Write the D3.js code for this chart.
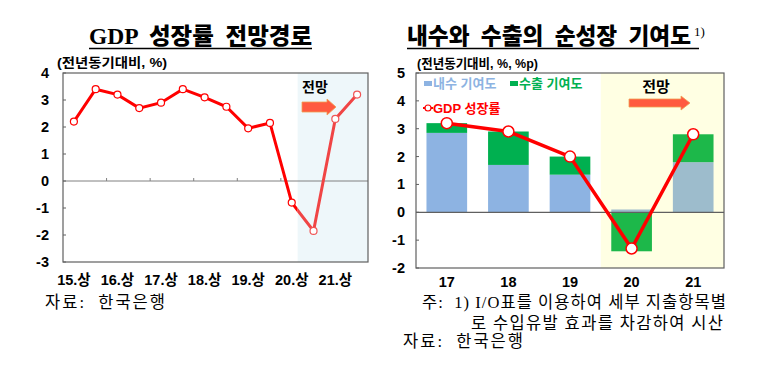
<!DOCTYPE html>
<html>
<head>
<meta charset="utf-8">
<script src="https://cdn.jsdelivr.net/npm/d3@7.9.0/dist/d3.min.js"></script>
<style>
  body { margin: 0; background: #fff; }
  svg { display: block; }
  .tick-lbl { font-family: "Liberation Sans", "Noto Sans CJK KR", sans-serif; font-weight: bold; font-size: 14.5px; fill: #000; }
  .unit { font-family: "Liberation Sans", "Noto Sans CJK KR", sans-serif; font-weight: bold; font-size: 13px; }
  .title { font-family: "Liberation Serif", "Noto Sans CJK KR", serif; font-weight: 900; font-size: 23px; }
  .note { font-family: "Liberation Serif", "Noto Sans CJK KR", serif; font-size: 16.5px; }
</style>
</head>
<body>
<svg id="chart" width="757" height="374"></svg>
<script>
// left chart: GDP growth path (half-years)
const periods = ['15.상', '15.하', '16.상', '16.하', '17.상', '17.하', '18.상', '18.하',
  '19.상', '19.하', '20.상', '20.하', '21.상', '21.하'];
const gdpPath = [2.2, 3.4, 3.2, 2.7, 2.9, 3.4, 3.1, 2.75, 1.95, 2.15, -0.8, -1.85, 2.3, 3.2];
const leftTicks = [4, 3, 2, 1, 0, -1, -2, -3];
const forecastFrom = 11; // 20.하 onwards

// right chart: contribution to growth
const years = ['17', '18', '19', '20', '21'];
const domestic = [2.85, 1.7, 1.35, 0.1, 1.8];
const exportsC = [0.35, 1.2, 0.65, -1.4, 1.0];
const gdpYear = [3.2, 2.9, 2.0, -1.3, 2.8];
const rightTicks = [5, 4, 3, 2, 1, 0, -1, -2];
const forecastYear = 3; // 20 onwards

const svg = d3.select('#chart');
const RED = '#ff0000';

// ---------- left ----------
const L = { left: 63, right: 368, top: 73, bottom: 262 };
const x1 = d3.scaleBand().domain(periods).range([L.left, L.right]);
const y1 = d3.scaleLinear().domain([-3, 4]).range([L.bottom, L.top]);
const g1 = svg.append('g');

const shadeX = x1(periods[forecastFrom - 1]) + x1.bandwidth() * 0.77;
g1.append('rect')
  .attr('x', shadeX).attr('y', L.top)
  .attr('width', L.right - shadeX).attr('height', L.bottom - L.top)
  .attr('fill', '#eef7fa');

g1.append('line')
  .attr('x1', L.left).attr('x2', L.right)
  .attr('y1', y1(0)).attr('y2', y1(0))
  .attr('stroke', '#808080').attr('stroke-width', 1);

// small ticks on the zero line every year
periods.forEach((p, i) => {
  if (i > 0 && i % 2 === 0 && i < 12) {
    g1.append('line')
      .attr('x1', x1(p)).attr('x2', x1(p))
      .attr('y1', y1(0)).attr('y2', y1(0) - 3)
      .attr('stroke', '#808080');
  }
});

g1.append('rect')
  .attr('x', L.left).attr('y', L.top)
  .attr('width', L.right - L.left).attr('height', L.bottom - L.top)
  .attr('fill', 'none').attr('stroke', '#606060').attr('stroke-width', 1.2);

leftTicks.forEach(t => {
  g1.append('line')
    .attr('x1', L.left).attr('x2', L.left + 3)
    .attr('y1', y1(t)).attr('y2', y1(t))
    .attr('stroke', '#606060');
  g1.append('text').attr('class', 'tick-lbl')
    .attr('x', 49).attr('y', y1(t) + 5)
    .attr('text-anchor', 'end')
    .text(t);
});

periods.forEach((p, i) => {
  if (i % 2 === 0) {
    g1.append('text').attr('class', 'tick-lbl')
      .attr('x', x1(p) + x1.bandwidth() / 2).attr('y', 285)
      .attr('text-anchor', 'middle')
      .text(p);
  }
});

const cx1 = i => x1(periods[i]) + x1.bandwidth() / 2;
const line1 = d3.line().x((d, i) => cx1(i)).y(d => y1(d));

svg.append('clipPath').attr('id', 'clipActual')
  .append('rect').attr('x', 0).attr('y', 0).attr('width', shadeX).attr('height', 374);
svg.append('clipPath').attr('id', 'clipFcst')
  .append('rect').attr('x', shadeX).attr('y', 0).attr('width', 757 - shadeX).attr('height', 374);

g1.append('path').datum(gdpPath)
  .attr('d', line1).attr('fill', 'none')
  .attr('stroke', RED).attr('stroke-width', 3)
  .attr('clip-path', 'url(#clipActual)');
g1.append('path').datum(gdpPath)
  .attr('d', line1).attr('fill', 'none')
  .attr('stroke', '#f04545').attr('stroke-width', 3)
  .attr('clip-path', 'url(#clipFcst)');

g1.selectAll('circle').data(gdpPath).join('circle')
  .attr('cx', (d, i) => cx1(i)).attr('cy', d => y1(d))
  .attr('r', 3.5)
  .attr('fill', '#fff')
  .attr('stroke', (d, i) => i >= forecastFrom ? '#f05555' : RED)
  .attr('stroke-width', 1.2);

g1.append('text').attr('class', 'unit')
  .attr('x', 302).attr('y', 92)
  .style('font-size', '14px')
  .text('전망');

function arrow(g, x0, xEnd, yc, body, head, headLen) {
  const pts = [
    [x0, yc - body / 2], [xEnd - headLen, yc - body / 2], [xEnd - headLen, yc - head / 2],
    [xEnd, yc], [xEnd - headLen, yc + head / 2], [xEnd - headLen, yc + body / 2], [x0, yc + body / 2]
  ];
  g.append('path')
    .attr('d', 'M' + pts.map(p => p.join(',')).join('L') + 'Z')
    .attr('fill', '#ff5a40').attr('stroke', '#f0a050').attr('stroke-width', 0.8);
}
arrow(g1, 302, 336, 107, 10, 16, 9);

// title left
g1.append('text').attr('class', 'title')
  .attr('x', 89).attr('y', 44)
  .attr('xml:space', 'preserve')
  .attr('textLength', 223).attr('lengthAdjust', 'spacingAndGlyphs')
  .text('GDP  성장률  전망경로');
g1.append('line').attr('x1', 89).attr('x2', 312).attr('y1', 48.5).attr('y2', 48.5)
  .attr('stroke', '#000').attr('stroke-width', 1.3);

g1.append('text').attr('class', 'unit')
  .attr('x', 57).attr('y', 67)
  .attr('textLength', 110).attr('lengthAdjust', 'spacingAndGlyphs')
  .text('(전년동기대비, %)');

g1.append('text').attr('class', 'note')
  .attr('x', 45).attr('y', 308).attr('xml:space', 'preserve')
  .attr('textLength', 120)
  .text('자료:  한국은행');

// ---------- right ----------
const R = { left: 416, right: 724, top: 73, bottom: 268 };
const x2 = d3.scaleBand().domain(years).range([R.left, R.right]).paddingInner(0.34).paddingOuter(0.17);
const xb2 = d3.scaleBand().domain(years).range([R.left, R.right]);
const y2 = d3.scaleLinear().domain([-2, 5]).range([R.bottom, R.top]);
const g2 = svg.append('g');

const shade2 = xb2(years[forecastYear]);
g2.append('rect')
  .attr('x', shade2).attr('y', R.top)
  .attr('width', R.right - shade2).attr('height', R.bottom - R.top)
  .attr('fill', '#ffffe3');

const domColor = i => i >= forecastYear ? '#9dbccc' : '#8db3e2';
const expColor = i => i >= forecastYear ? '#1db84a' : '#00b050';

years.forEach((yr, i) => {
  const d = domestic[i], e = exportsC[i];
  g2.append('rect')
    .attr('x', x2(yr)).attr('width', x2.bandwidth())
    .attr('y', y2(Math.max(0, d))).attr('height', Math.abs(y2(d) - y2(0)))
    .attr('fill', domColor(i));
  const base = e >= 0 ? Math.max(0, d) : Math.min(0, d);
  g2.append('rect')
    .attr('x', x2(yr)).attr('width', x2.bandwidth())
    .attr('y', y2(Math.max(base, base + e))).attr('height', Math.abs(y2(base + e) - y2(base)))
    .attr('fill', expColor(i));
});

g2.append('line')
  .attr('x1', R.left).attr('x2', R.right)
  .attr('y1', y2(0)).attr('y2', y2(0))
  .attr('stroke', '#606060').attr('stroke-width', 1.2);

g2.append('rect')
  .attr('x', R.left).attr('y', R.top)
  .attr('width', R.right - R.left).attr('height', R.bottom - R.top)
  .attr('fill', 'none').attr('stroke', '#606060').attr('stroke-width', 1.2);

rightTicks.forEach(t => {
  g2.append('line')
    .attr('x1', R.left).attr('x2', R.left + 3)
    .attr('y1', y2(t)).attr('y2', y2(t))
    .attr('stroke', '#606060');
  g2.append('text').attr('class', 'tick-lbl')
    .attr('x', 405).attr('y', y2(t) + 5)
    .attr('text-anchor', 'end')
    .text(t);
});

years.forEach(yr => {
  g2.append('text').attr('class', 'tick-lbl')
    .attr('x', xb2(yr) + xb2.bandwidth() / 2).attr('y', 287)
    .attr('text-anchor', 'middle')
    .text(yr);
});

const cx2 = i => xb2(years[i]) + xb2.bandwidth() / 2;
g2.append('path').datum(gdpYear)
  .attr('d', d3.line().x((d, i) => cx2(i)).y(d => y2(d)))
  .attr('fill', 'none').attr('stroke', RED).attr('stroke-width', 3.5);
g2.selectAll('circle').data(gdpYear).join('circle')
  .attr('cx', (d, i) => cx2(i)).attr('cy', d => y2(d))
  .attr('r', 5.5).attr('fill', '#fff').attr('stroke', RED).attr('stroke-width', 1.5);

// legend
g2.append('rect').attr('x', 424).attr('y', 81).attr('width', 8).attr('height', 5).attr('fill', '#8db3e2');
g2.append('text').attr('class', 'unit').attr('x', 433).attr('y', 88).attr('fill', '#8db3e2').text('내수 기여도');
g2.append('rect').attr('x', 510).attr('y', 81).attr('width', 8).attr('height', 5).attr('fill', '#00b050');
g2.append('text').attr('class', 'unit').attr('x', 519).attr('y', 88).attr('fill', '#00b050').text('수출 기여도');
g2.append('line').attr('x1', 423).attr('x2', 433).attr('y1', 108).attr('y2', 108).attr('stroke', RED).attr('stroke-width', 2);
g2.append('circle').attr('cx', 428).attr('cy', 108).attr('r', 3).attr('fill', '#fff').attr('stroke', RED).attr('stroke-width', 1.2);
g2.append('text').attr('class', 'unit').attr('x', 433).attr('y', 113).attr('fill', RED).text('GDP 성장률');

g2.append('text').attr('class', 'unit')
  .attr('x', 656).attr('y', 92).attr('text-anchor', 'middle')
  .style('font-size', '15px').attr('fill', '#000').text('전망');
arrow(g2, 629, 690, 103, 8, 14, 9);

// title right
g2.append('text').attr('class', 'title')
  .attr('x', 407).attr('y', 44)
  .attr('xml:space', 'preserve')
  .attr('textLength', 284).attr('lengthAdjust', 'spacingAndGlyphs')
  .text('내수와  수출의  순성장  기여도');
g2.append('text').attr('class', 'title')
  .attr('x', 694).attr('y', 36).style('font-size', '13px').style('font-weight', 'normal')
  .text('1)');
g2.append('line').attr('x1', 407).attr('x2', 699).attr('y1', 48.5).attr('y2', 48.5)
  .attr('stroke', '#000').attr('stroke-width', 1.3);

g2.append('text').attr('class', 'unit')
  .attr('x', 417).attr('y', 68)
  .attr('textLength', 121).attr('lengthAdjust', 'spacingAndGlyphs')
  .text('(전년동기대비, %, %p)');

g2.append('text').attr('class', 'note')
  .attr('x', 422).attr('y', 308).attr('xml:space', 'preserve')
  .attr('textLength', 304)
  .text('주:  1) I/O표를 이용하여 세부 지출항목별');
g2.append('text').attr('class', 'note')
  .attr('x', 471).attr('y', 329)
  .attr('textLength', 252)
  .text('로 수입유발 효과를 차감하여 시산');
g2.append('text').attr('class', 'note')
  .attr('x', 403).attr('y', 347).attr('xml:space', 'preserve')
  .attr('textLength', 120)
  .text('자료:  한국은행');
</script>
</body>
</html>
